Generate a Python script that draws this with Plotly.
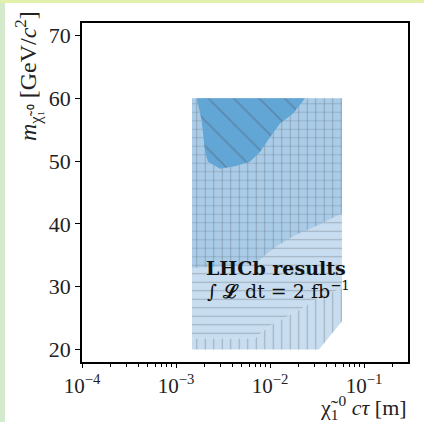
import plotly.graph_objects as go

# ---- data ----
# Region with horizontal hatching
h_x = [1.48e-3, 5.83e-2, 5.83e-2, 3.4e-2, 1.85e-2, 1.0e-2, 6.9e-3, 1.48e-3]
h_y = [60, 60, 29.7, 28.4, 25.9, 23.8, 21.75, 21.75]

# Region with vertical hatching (two parts)
v_up_x = [1.48e-3, 5.83e-2, 5.83e-2, 3.24e-2, 1.85e-2, 1.22e-2, 9.3e-3, 7.3e-3, 4.0e-3, 1.48e-3]
v_up_y = [60, 60, 41.7, 39.8, 38.2, 36.6, 35.3, 33.9, 33.3, 33.0]
v_lo_x = [1.48e-3, 3.32e-2, 5.83e-2, 5.83e-2, 3.4e-2, 1.85e-2, 1.0e-2, 6.9e-3, 1.48e-3]
v_lo_y = [20, 20, 24.5, 29.7, 28.4, 25.9, 23.8, 21.75, 21.75]

# Darker region (diagonal hatching)
d_x = [1.66e-3, 1.87e-3, 2.04e-3, 2.19e-3, 2.94e-3, 4.25e-3, 6.1e-3, 7.8e-3, 1.0e-2, 1.28e-2, 1.76e-2, 2.36e-2]
d_y = [60, 56.5, 51.4, 49.9, 48.8, 49.2, 49.9, 51.4, 53.8, 56.0, 57.6, 60]

x_tickvals = [1e-4, 1e-3, 1e-2, 1e-1]
x_ticktext = ["10<sup>−4</sup>", "10<sup>−3</sup>", "10<sup>−2</sup>", "10<sup>−1</sup>"]
x_minor = [k * 10 ** e for e in (-4, -3, -2, -1) for k in range(2, 10)]
y_tickvals = [20, 30, 40, 50, 60, 70]

SERIF = "Liberation Serif"
LIGHT = "rgba(134,182,222,0.46)"
HATCH = "rgb(120,126,136)"
DARK = "rgb(98,166,214)"

W, H = 424, 422
ML, MR, MT, MB = 82, 16, 23, 60
PW, PH = W - ML - MR, H - MT - MB


def px2paper_x(px):
    return (px - ML) / PW


def px2paper_y(py):
    return (H - MB - py) / PH


fig = go.Figure()

fig.add_trace(go.Scatter(
    x=h_x, y=h_y, mode="lines", fill="toself", line=dict(width=0),
    fillcolor=LIGHT,
    fillpattern=dict(shape="-", fillmode="overlay", bgcolor=LIGHT, fgcolor=HATCH,
                     size=8.5, solidity=0.13),
    hoverinfo="skip", showlegend=False))

fig.add_trace(go.Scatter(
    x=v_up_x + [None] + v_lo_x, y=v_up_y + [None] + v_lo_y,
    mode="lines", fill="toself", line=dict(width=0),
    fillcolor=LIGHT,
    fillpattern=dict(shape="|", fillmode="overlay", bgcolor=LIGHT, fgcolor=HATCH,
                     size=8.5, solidity=0.13),
    hoverinfo="skip", showlegend=False))

fig.add_trace(go.Scatter(
    x=d_x, y=d_y, mode="lines", fill="toself", line=dict(width=0),
    fillcolor=DARK,
    fillpattern=dict(shape="\\", fillmode="overlay", bgcolor=DARK,
                     fgcolor="rgb(85,110,135)", size=18, solidity=0.1),
    hoverinfo="skip", showlegend=False))

fig.update_xaxes(
    type="log", range=[-4, -0.532],
    tickvals=x_tickvals, ticktext=x_ticktext,
    ticks="outside", ticklen=4, tickwidth=1, tickcolor="black",
    minor=dict(ticks="outside", ticklen=3, tickwidth=1, tickcolor="black",
               tickmode="array", tickvals=x_minor),
    showline=True, linecolor="black", linewidth=1.5, mirror=True,
    showgrid=False, zeroline=False,
    tickfont=dict(family=SERIF, size=21, color="#222"))

fig.update_yaxes(
    range=[18, 72], tickvals=y_tickvals,
    ticks="outside", ticklen=5, tickwidth=1, tickcolor="black",
    showline=True, linecolor="black", linewidth=1.5, mirror=True,
    showgrid=False, zeroline=False,
    tickfont=dict(family=SERIF, size=22, color="#222"))

fig.add_annotation(
    x=px2paper_x(204), y=px2paper_y(268), xref="paper", yref="paper",
    xanchor="left", yanchor="middle",
    text="<b>LHCb results</b>", showarrow=False,
    font=dict(family="DejaVu Serif", size=19, color="#111"))
fig.add_annotation(
    x=px2paper_x(205), y=px2paper_y(290), xref="paper", yref="paper",
    xanchor="left", yanchor="middle",
    text="∫ <b>ℒ</b> dt = 2 fb<sup>−1</sup>", showarrow=False,
    font=dict(family="DejaVu Serif", size=19, color="#111"))

# axis titles
fig.add_annotation(
    x=px2paper_x(409), y=px2paper_y(408), xref="paper", yref="paper",
    xanchor="right", yanchor="middle", showarrow=False,
    text="χ̃<sub>1</sub><sup>0</sup> <i>cτ</i> [m]",
    font=dict(family=SERIF, size=22, color="#222"))
fig.add_annotation(
    x=px2paper_x(28), y=px2paper_y(76), xref="paper", yref="paper",
    xanchor="center", yanchor="middle", showarrow=False, textangle=-90,
    text="<i>m</i><sub>χ̃₁⁰</sub> [GeV/<i>c</i><sup>2</sup>]",
    font=dict(family=SERIF, size=24, color="#222"))

# slide background edges visible around the figure
fig.add_shape(type="rect", xref="paper", yref="paper", layer="below",
              x0=px2paper_x(0), x1=px2paper_x(5), y0=px2paper_y(422), y1=px2paper_y(0),
              fillcolor="rgb(212,234,205)", line=dict(width=0))
fig.add_shape(type="rect", xref="paper", yref="paper", layer="below",
              x0=px2paper_x(0), x1=px2paper_x(424), y0=px2paper_y(3), y1=px2paper_y(0),
              fillcolor="rgb(226,242,172)", line=dict(width=0))

fig.update_layout(
    width=W, height=H,
    margin=dict(l=ML, r=MR, t=MT, b=MB),
    paper_bgcolor="white", plot_bgcolor="white")

fig.write_html("out.html")
